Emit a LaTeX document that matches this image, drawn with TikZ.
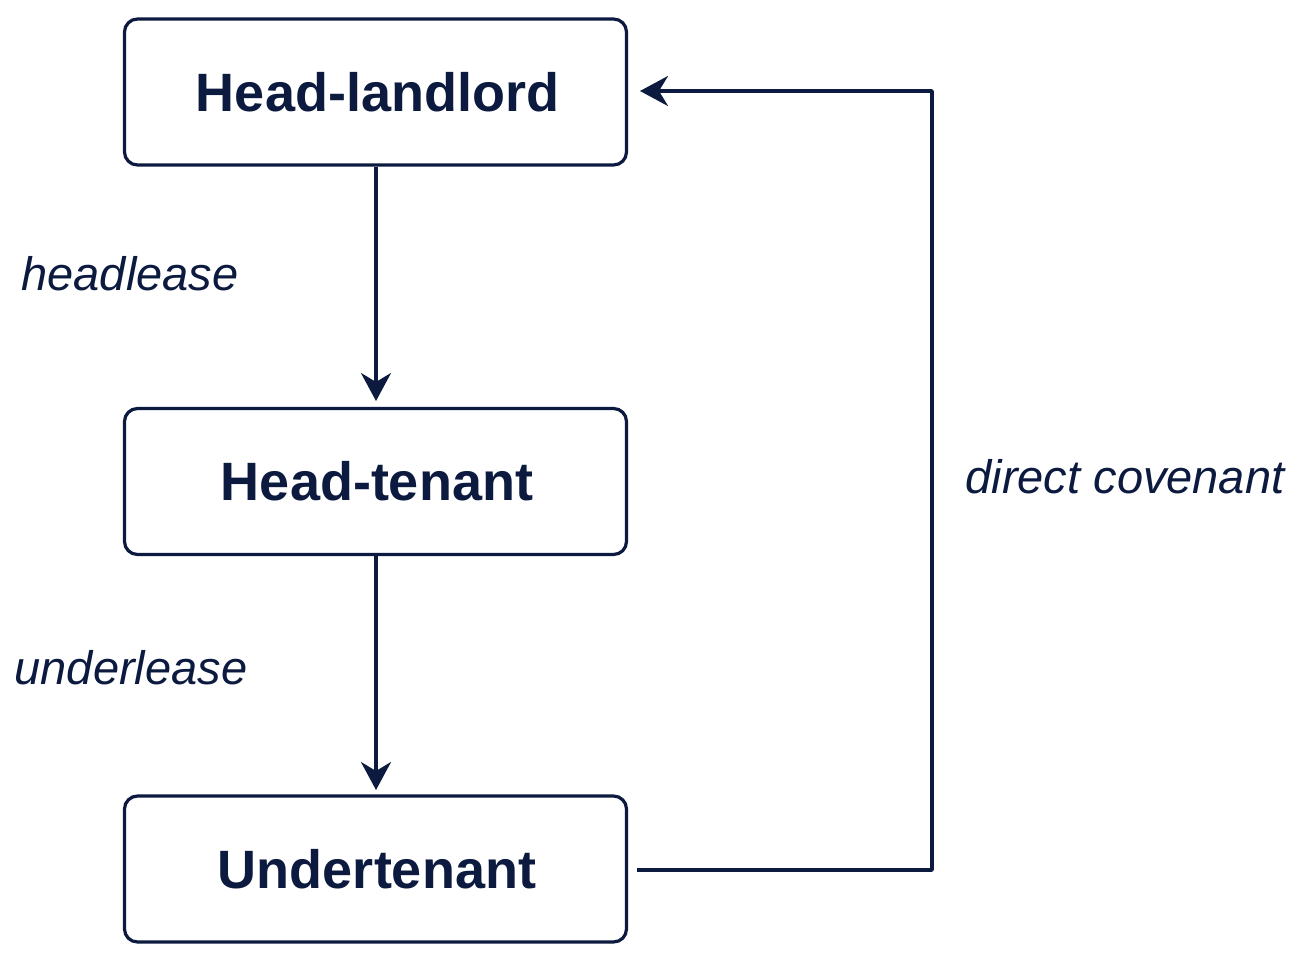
\documentclass[tikz,border=0pt]{standalone}
\usepackage{fontspec}
\setmainfont{Liberation Sans}
\usetikzlibrary{arrows.meta}
\definecolor{navy}{HTML}{0B1A3E}
\begin{document}
\begin{tikzpicture}[x=1pt,y=-1pt,
  box/.style={draw=navy,line width=3.2pt,rounded corners=13pt,minimum width=502pt,minimum height=146pt,inner sep=0pt,text=navy,font=\bfseries\fontsize{54}{60}\selectfont},
  lbl/.style={text=navy,font=\itshape\fontsize{47}{54}\selectfont,inner sep=0pt},
  conn/.style={draw=navy,line width=3.4pt,line join=round,-{Stealth[length=28pt,width=30pt,inset=9pt]}}]
\useasboundingbox (0,0) rectangle (1305,961);
\node[box] (hl) at (375.5,92) {\hspace*{4pt}Head-landlord};
\node[box] (ht) at (375.5,481.5) {\hspace*{3pt}Head-tenant};
\node[box] (ut) at (375.5,869) {\hspace*{3pt}Undertenant};
\coordinate (s) at (637,870);
\coordinate (c1) at (932,870);
\coordinate (c2) at (932,91);
\coordinate (e) at (640,91);
\draw[conn] (hl.south -| 376,0) -- (376,401);
\draw[conn] (ht.south -| 376,0) -- (376,790);
\draw[conn] (s) -- (c1) -- (c2) -- (e);
\node[lbl] (a) at (130,274) {headlease};
\node[lbl] (b) at (131,668) {underlease};
\node[lbl] (c) at (1125,477) {direct covenant};
\end{tikzpicture}
\end{document}
